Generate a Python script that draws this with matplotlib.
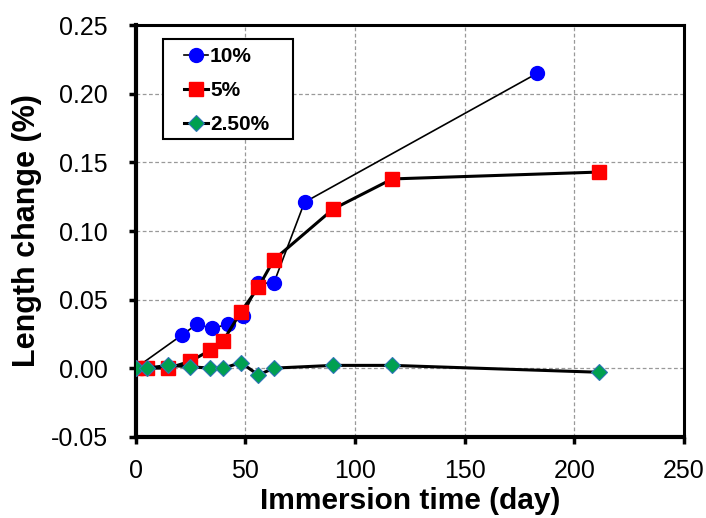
import matplotlib
matplotlib.use("Agg")
import matplotlib.pyplot as plt
from matplotlib.patches import Rectangle

plt.rcParams['font.family'] = ['Liberation Sans', 'DejaVu Sans']

# 10% series
days_10 = [0, 21, 28, 35, 42, 49, 56, 63, 77, 183]
len_10 = [0.000, 0.024, 0.032, 0.029, 0.032, 0.038, 0.062, 0.062, 0.121, 0.215]

# 5% series
days_5 = [0, 5, 15, 25, 34, 40, 48, 56, 63, 90, 117, 211]
len_5 = [0.000, 0.000, 0.000, 0.005, 0.013, 0.020, 0.041, 0.059, 0.079, 0.116, 0.138, 0.143]

# 2.5% series
days_25 = [0, 5, 15, 25, 34, 40, 48, 56, 63, 90, 117, 211]
len_25 = [0.000, 0.000, 0.002, 0.001, 0.000, 0.000, 0.004, -0.005, 0.000, 0.002, 0.002, -0.003]

labels = ['10%', '5%', '2.50%']

W, H = 706, 518
fig = plt.figure(figsize=(W / 100, H / 100), dpi=100)
ax = fig.add_axes([0.192, 0.157, 0.777, 0.794])

ax.plot(days_10, len_10, color='black', lw=1.2, marker='o', ms=10,
        mfc='#0000FF', mec='#0000FF', label=labels[0], zorder=3)
ax.plot(days_5, len_5, color='black', lw=2.2, marker='s', ms=9.5,
        mfc='#FF0000', mec='#FF0000', label=labels[1], zorder=4)
ax.plot(days_25, len_25, color='black', lw=2.2, marker='D', ms=8.5,
        mfc='#00A050', mec='#2E75B6', mew=0.8, label=labels[2], zorder=5)

ax.set_xlim(0, 250)
ax.set_ylim(-0.05, 0.25)
ax.set_xticks([0, 50, 100, 150, 200, 250])
ax.set_yticks([-0.05, 0.00, 0.05, 0.10, 0.15, 0.20, 0.25])
ax.set_yticklabels(['-0.05', '0.00', '0.05', '0.10', '0.15', '0.20', '0.25'])

ax.grid(True, color='#999999', linestyle=(0, (3, 2)), linewidth=0.9)
ax.set_axisbelow(True)

for side in ['left', 'bottom']:
    ax.spines[side].set_linewidth(3)
for side in ['top', 'right']:
    ax.spines[side].set_linewidth(2.2)

ax.tick_params(axis='both', direction='out', length=5, width=2.5,
               labelsize=18)
ax.tick_params(axis='y', pad=15)
ax.tick_params(axis='x', pad=11)

ax.set_xlabel('Immersion time (day)', fontsize=21.5, fontweight='bold', labelpad=3)
ax.set_ylabel('Length change (%)', fontsize=22, fontweight='bold', labelpad=6)

# legend: entries without frame, box drawn separately
box = Rectangle((163 / W, 1 - 139 / H), 130 / W, 100 / H,
                transform=fig.transFigure, facecolor='white',
                edgecolor='black', lw=1.5, zorder=6, clip_on=False)
ax.add_patch(box)
leg = ax.legend(loc='upper left', bbox_to_anchor=(184 / W, 1 - 47 / H),
                bbox_transform=fig.transFigure,
                prop={'weight': 'bold', 'size': 15}, frameon=False,
                handlelength=1.15, handletextpad=0.1,
                borderpad=0, labelspacing=0.72, borderaxespad=0)
leg.set_zorder(7)

fig.savefig('out.png', dpi=100)
